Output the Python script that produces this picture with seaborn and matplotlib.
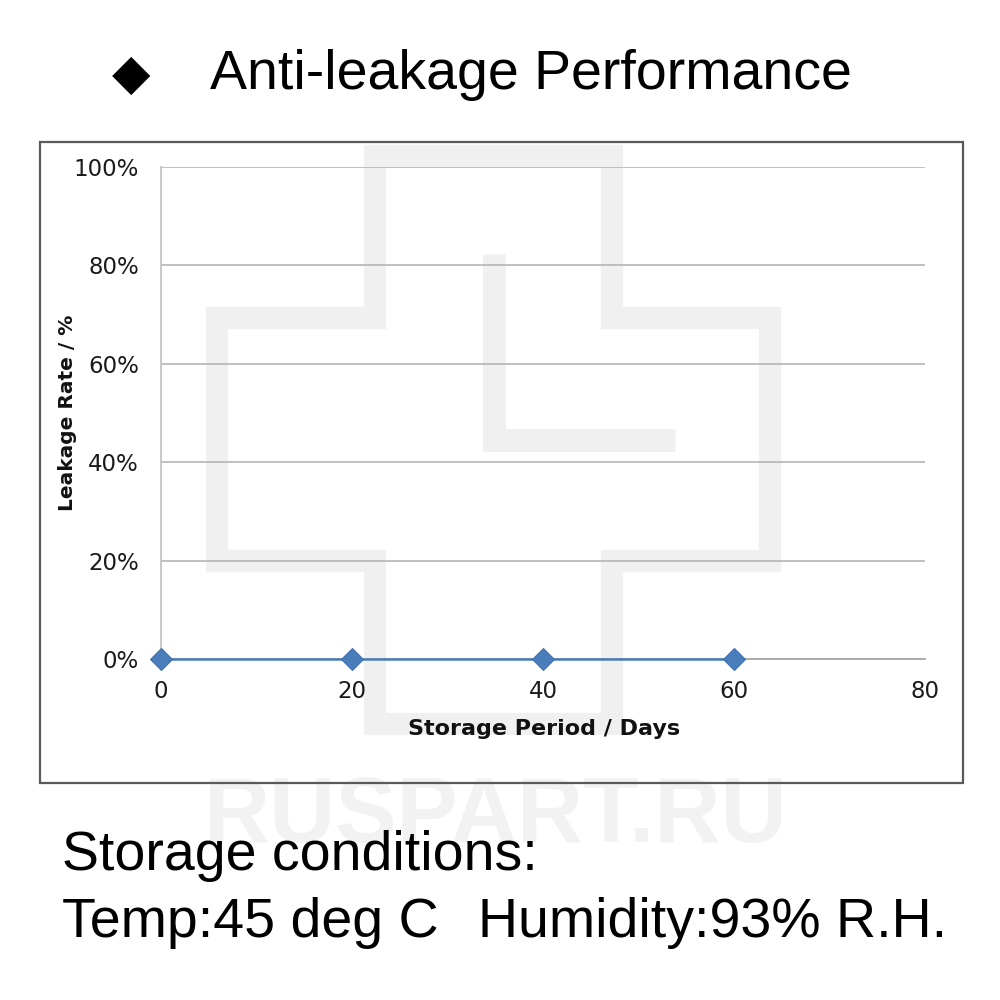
import numpy as np
import pandas as pd
import seaborn as sns
import matplotlib
matplotlib.use("Agg")
from matplotlib import pyplot as plt
from matplotlib import font_manager
from matplotlib.patches import Rectangle, Polygon
from matplotlib.lines import Line2D
from matplotlib.ticker import PercentFormatter

# data
days = [0, 20, 40, 60]
leak_rate = [0, 0, 0, 0]
x_ticks = [0, 20, 40, 60, 80]
y_ticks = [0, 0.2, 0.4, 0.6, 0.8, 1.0]

title = "Anti-leakage Performance"
cond_line1 = "Storage conditions:"
cond_temp = "Temp:45 deg C"
cond_hum = "Humidity:93% R.H."

sns.set_style("white")
plt.rcParams['font.family'] = ['DejaVu Sans']

df = pd.DataFrame({'days': days, 'rate': leak_rate})

fig = plt.figure(figsize=(10, 10), dpi=100)
W, H = 1000.0, 1000.0

def fx(px):
    return px / W

def fy(py):
    return 1 - py / H

# watermark (behind everything)
cross = [(375, 156), (612, 156), (612, 318), (770, 318), (770, 561), (612, 561),
         (612, 724), (375, 724), (375, 561), (217, 561), (217, 318), (375, 318)]
fig.patches.append(Polygon([(fx(a), fy(b)) for a, b in cross], closed=True, fill=False,
                           edgecolor='#f0f0f0', lw=16, joinstyle='miter',
                           transform=fig.transFigure, zorder=-2))
ell = [(493.5, 254), (493.5, 440), (675, 440)]
fig.lines.append(Line2D([fx(a) for a, b in ell], [fy(b) for a, b in ell], color='#f0f0f0',
                        lw=16.5, solid_joinstyle='miter', solid_capstyle='butt',
                        transform=fig.transFigure, zorder=-2))

names = {f.name for f in font_manager.fontManager.ttflist}
if 'Liberation Sans Narrow' in names:
    wm_font, wm_size = 'Liberation Sans Narrow', 80
else:
    wm_font, wm_size = 'Liberation Sans', 66
fig.text(0.496, fy(818), "RUSPART.RU", family=wm_font, fontweight='bold',
         fontsize=wm_size, color='#f2f2f2', ha='center', va='center', zorder=-2)

# chart frame
fig.patches.append(Rectangle((fx(40), fy(783)), fx(923), 0.641, fill=False,
                             edgecolor='#5a5a5a', lw=1.6, transform=fig.transFigure, zorder=1))

ax = fig.add_axes([0.161, 0.341, 0.764, 0.492])
ax.set_facecolor('none')
ax.set_zorder(2)

sns.lineplot(data=df, x='days', y='rate', ax=ax, color='#4a7ebb', lw=1.8,
             marker='D', markersize=11.5, markeredgecolor='#3d6fae', clip_on=False, zorder=5)

ax.set_xlim(0, 80)
ax.set_ylim(0, 1)
ax.set_xticks(x_ticks)
ax.set_yticks(y_ticks)
ax.yaxis.set_major_formatter(PercentFormatter(1.0, decimals=0))
ax.grid(axis='y', color='#bababa', lw=1.3)
ax.grid(axis='x', visible=False)
for s in ['top', 'right']:
    ax.spines[s].set_visible(False)
ax.spines['left'].set_color('#c4c4c4')
ax.spines['left'].set_linewidth(1.3)
ax.spines['bottom'].set_color('#a6a6a6')
ax.spines['bottom'].set_linewidth(1.3)
ax.tick_params(axis='y', direction='out', length=6, width=1.3, color='#bababa',
               pad=10, labelsize=16.5, labelcolor='#1a1a1a')
ax.tick_params(axis='x', direction='in', length=5, width=1.3, color='#a6a6a6',
               pad=15, labelsize=16.5, labelcolor='#1a1a1a')

ax.set_xlabel("Storage Period / Days", fontsize=16, fontweight='bold', color='#111111')
ax.set_ylabel("Leakage Rate / %", fontsize=14.5, fontweight='bold', color='#111111')
ax.xaxis.set_label_coords((544 - 161) / 764.0, -(719 - 659) / 492.0)
ax.yaxis.set_label_coords(-(161 - 77) / 764.0, (659 - 413) / 492.0)

# title and notes
fig.text(fx(131), fy(75), "\u25c6", family='DejaVu Sans', fontsize=36, color='black',
         ha='center', va='center')
fig.text(fx(210), fy(75), title, family='Liberation Sans', fontsize=40, color='black',
         ha='left', va='center')
fig.text(fx(62), fy(870), cond_line1, family='Liberation Sans', fontsize=40, color='black',
         ha='left', va='baseline')
fig.text(fx(62), fy(937), cond_temp, family='Liberation Sans', fontsize=40, color='black',
         ha='left', va='baseline')
fig.text(fx(478), fy(937), cond_hum, family='Liberation Sans', fontsize=40, color='black',
         ha='left', va='baseline')

fig.savefig("out.png", dpi=100, facecolor='white')
